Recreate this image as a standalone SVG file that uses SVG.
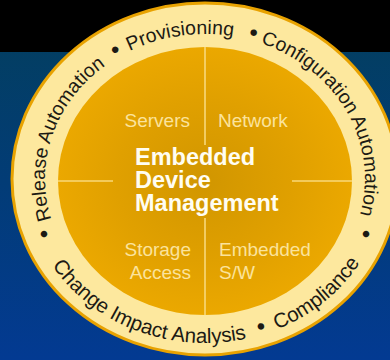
<svg xmlns="http://www.w3.org/2000/svg" width="390" height="360" viewBox="0 0 390 360">
<defs>
<linearGradient id="bg" x1="0" y1="0" x2="0" y2="1">
<stop offset="0" stop-color="#033f5c"/>
<stop offset="0.5" stop-color="#023c76"/>
<stop offset="1" stop-color="#033a92"/>
</linearGradient>
<radialGradient id="core" cx="0.5" cy="0.5" r="0.5">
<stop offset="0" stop-color="#d19600"/>
<stop offset="0.6" stop-color="#e0a000"/>
<stop offset="1" stop-color="#eba800"/>
</radialGradient>
<path id="pRelease" d="M88.0,277.9 A160,145 0 0 1 169.0,37.7"/>
<path id="pDot1" d="M62.4,113.2 A160,145 0 0 1 196.6,34.2"/>
<path id="pProv" d="M67.3,105.2 A160,145 0 0 1 309.1,68.9"/>
<path id="pDot2" d="M169.8,37.6 A160,145 0 0 1 322.6,80.7"/>
<path id="pConfig" d="M186.3,35.0 A160,145 0 0 1 321.4,278.4"/>
<path id="pChange" d="M26.3,198.4 A180,164 0 0 0 312.8,310.3"/>
<path id="pDot3" d="M171.6,340.1 A180,164 0 0 0 341.5,285.9"/>
<path id="pCompl" d="M212.2,342.9 A180,164 0 0 0 383.4,201.0"/>
<path id="pDotL" d="M27.6,151.4 A180,164 0 0 0 90.0,305.2"/>
<path id="pDotR" d="M320.0,305.2 A180,164 0 0 0 382.4,151.4"/>
</defs>
<style>
.ring{font-family:"Liberation Sans",Arial,sans-serif;fill:#1c1a14;}
.top{font-size:19.5px;}
.bot{font-size:20.5px;}
.dot{font-size:24px;}
.lbl{font-family:"Liberation Sans",Arial,sans-serif;font-size:19px;fill:#fbe39c;}
.main{font-family:"Liberation Sans",Arial,sans-serif;font-size:23.5px;font-weight:bold;fill:#fffdf2;}
.div{stroke:#f8d879;stroke-width:1.6;fill:none;}
</style>
<g id="background">
<rect x="0" y="0" width="390" height="360" fill="url(#bg)"/>
<rect x="0" y="0" width="390" height="52" fill="#000"/>
</g>
<g id="ring">
<ellipse cx="205" cy="179" rx="193" ry="176" fill="#fde89e" stroke="#e8a200" stroke-width="3"/>
</g>
<g id="core">
<ellipse cx="205" cy="181" rx="147" ry="134" fill="url(#core)"/>
</g>
<g id="connectors">
<line class="div" x1="205" y1="47" x2="205" y2="145"/>
<line class="div" x1="205" y1="218" x2="205" y2="315"/>
<line class="div" x1="58" y1="181" x2="113" y2="181"/>
<line class="div" x1="292" y1="181" x2="352" y2="181"/>
</g>
<g id="ring-labels" class="ring">
<text class="top" text-anchor="middle"><textPath href="#pRelease" startOffset="50%">Release Automation</textPath></text>
<text class="dot" text-anchor="middle"><textPath href="#pDot1" startOffset="50%">•</textPath></text>
<text class="top" text-anchor="middle"><textPath href="#pProv" startOffset="50%">Provisioning</textPath></text>
<text class="dot" text-anchor="middle"><textPath href="#pDot2" startOffset="50%">•</textPath></text>
<text class="top" text-anchor="middle"><textPath href="#pConfig" startOffset="50%">Configuration Automation</textPath></text>
<text class="dot" text-anchor="middle"><textPath href="#pDotL" startOffset="50%">•</textPath></text>
<text class="bot" text-anchor="middle"><textPath href="#pChange" startOffset="50%">Change Impact Analysis</textPath></text>
<text class="dot" text-anchor="middle"><textPath href="#pDot3" startOffset="50%">•</textPath></text>
<text class="bot" text-anchor="middle"><textPath href="#pCompl" startOffset="50%">Compliance</textPath></text>
<text class="dot" text-anchor="middle"><textPath href="#pDotR" startOffset="50%">•</textPath></text>
</g>
<g id="servers"><text class="lbl" x="190" y="127" text-anchor="end">Servers</text></g>
<g id="network"><text class="lbl" x="218" y="127">Network</text></g>
<g id="center-title">
<text class="main" x="135" y="165">Embedded</text>
<text class="main" x="135" y="188">Device</text>
<text class="main" x="135" y="211">Management</text>
</g>
<g id="storage"><text class="lbl" x="191" y="256" text-anchor="end">Storage</text><text class="lbl" x="191" y="279" text-anchor="end">Access</text></g>
<g id="embedded-sw"><text class="lbl" x="219" y="256">Embedded</text><text class="lbl" x="219" y="279">S/W</text></g>
</svg>
